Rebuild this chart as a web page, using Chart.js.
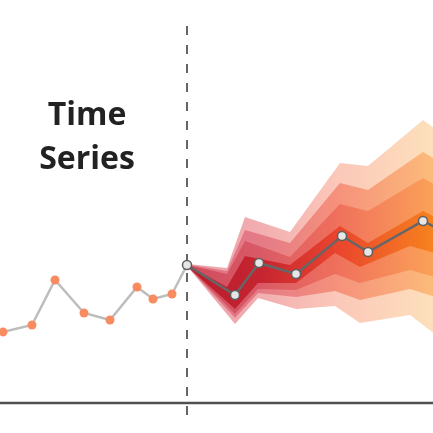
<!DOCTYPE html>
<html>
<head>
<meta charset="utf-8">
<script src="https://cdn.jsdelivr.net/npm/chart.js@4"></script>
<style>
  html, body { margin: 0; padding: 0; background: #ffffff; }
  #wrap { position: relative; width: 433px; height: 433px; }
  #title {
    position: absolute; left: 0; top: 91px; width: 174px;
    text-align: center; font-family: "Open Sans", sans-serif; font-weight: 700;
    font-size: 32px; line-height: 44px; color: #222222;
  }
</style>
</head>
<body>
<div id="wrap">
  <canvas id="c" width="433" height="433"></canvas>
  <div id="title">Time<br>Series</div>
</div>
<script>
// ---- data (time on x, value on y; axis baseline at value 0) ----
const historyX = [-25, 3, 32, 55, 84, 110, 137, 153, 172, 187];
const historyY = [88, 71, 78, 123, 90, 83, 116, 104, 109, 138];

const forecastX = [187, 235, 259, 296, 342, 368, 423, 452];
const forecastY = [138, 108, 140, 129, 167, 151, 182, 167];

// uncertainty bands: upper edge vertices and lower edge vertices
const bandUpperX = [187, 227, 245, 290, 340, 368, 423, 445];
const bandLowerX = [187, 235, 258, 296, 335, 360, 410, 445];
const band1Upper = [139, 135, 186, 171, 240, 237, 283, 267];
const band1Lower = [137, 79, 105, 94, 97, 80, 88, 61];
const band2Upper = [138.5, 132, 173, 160, 220, 213, 251, 238];
const band2Lower = [137, 85, 110, 106, 112, 103, 114, 103];
const band3Upper = [138, 129, 162, 146, 199, 192, 225, 213];
const band3Lower = [137, 89, 114, 113, 129, 120, 133, 123];
const band4Upper = [138, 116, 147, 138, 177, 160, 192, 181];
const band4Lower = [137, 94, 120, 120, 150, 136, 157, 147];

const nowX = 187;
const dividerTop = 377, dividerBottom = -12;
const axisStart = 0, axisEnd = 433;

// ---- helpers ----
const pts = (xs, ys) => xs.map((x, i) => ({x, y: ys[i]}));
function polygon(upper, lower) {
  const top = pts(bandUpperX, upper);
  const bottom = pts(bandLowerX, lower).reverse();
  return top.concat(bottom);
}
function gradient(stops) {
  return (ctx) => {
    const chart = ctx.chart;
    if (!chart.chartArea) return stops[0];
    const xs = chart.scales.x;
    const g = chart.ctx.createLinearGradient(xs.getPixelForValue(187), 0, xs.getPixelForValue(433), 0);
    const pos = [0, 0.3, 0.6, 1];
    stops.forEach((c, i) => g.addColorStop(pos[i], c));
    return g;
  };
}
function band(label, upper, lower, stops) {
  return {
    label, data: polygon(upper, lower), fill: 'shape',
    backgroundColor: gradient(stops), borderWidth: 0, pointRadius: 0, tension: 0
  };
}

const datasets = [
  {
    label: 'Forecast', data: pts(forecastX, forecastY),
    borderColor: '#666666', borderWidth: 2.5, tension: 0, fill: false,
    pointRadius: 4.5, pointBorderWidth: 1.5,
    pointBackgroundColor: '#e6e6e6', pointBorderColor: '#5f5f5f'
  },
  {
    label: 'History', data: pts(historyX, historyY),
    borderColor: '#bdbdbd', borderWidth: 2.5, tension: 0, fill: false,
    pointRadius: (c) => c.dataIndex === historyX.length - 1 ? 0 : 4.5,
    pointBorderWidth: 0, pointBackgroundColor: '#f98b60'
  },
  band('Band 4', band4Upper, band4Lower, ['#b71c2c', '#c62430', '#e9432e', '#f7821e']),
  band('Band 3', band3Upper, band3Lower, ['#d04a5c', '#d95a66', '#ef6f5c', '#fba158']),
  band('Band 2', band2Upper, band2Lower, ['#de7280', '#e47b87', '#f5907c', '#fcbb7a']),
  band('Band 1', band1Upper, band1Lower, ['#eba0a8', '#f2aeb0', '#fbc7b9', '#fde0bb']),
  {
    label: 'Now', data: [{x: nowX, y: dividerTop}, {x: nowX, y: dividerBottom}],
    borderColor: '#333333', borderWidth: 1.5, borderDash: [9, 10], pointRadius: 0, fill: false
  },
  {
    label: 'Axis', data: [{x: axisStart, y: 0}, {x: axisEnd, y: 0}],
    borderColor: '#505050', borderWidth: 2.5, pointRadius: 0, fill: false
  }
];

new Chart(document.getElementById('c'), {
  type: 'line',
  data: { datasets },
  options: {
    responsive: false, animation: false,
    layout: { padding: 0, autoPadding: false },
    plugins: { legend: { display: false }, tooltip: { enabled: false }, title: { display: false } },
    scales: {
      x: { type: 'linear', min: 0, max: 433, display: false },
      y: { type: 'linear', min: -30, max: 403, display: false }
    }
  }
});
</script>
</body>
</html>
